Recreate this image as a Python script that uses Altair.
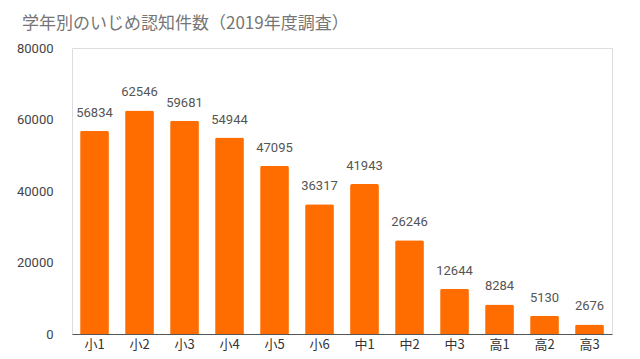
import altair as alt
import pandas as pd

grades = ["小1", "小2", "小3", "小4", "小5", "小6", "中1", "中2", "中3", "高1", "高2", "高3"]
counts = [56834, 62546, 59681, 54944, 47095, 36317, 41943, 26246, 12644, 8284, 5130, 2676]
y_ticks = [0, 20000, 40000, 60000, 80000]

df = pd.DataFrame({"grade": grades, "count": counts})

base = alt.Chart(df).encode(
    x=alt.X("grade:N", sort=grades, title=None,
            scale=alt.Scale(paddingInner=0.36, paddingOuter=0.18),
            axis=alt.Axis(labelAngle=0, ticks=False, domainColor="#555555",
                          labelFont="Noto Sans CJK JP", labelFontSize=13,
                          labelColor="#333333", labelPadding=4)),
    y=alt.Y("count:Q", title=None,
            scale=alt.Scale(domain=[0, 80000], nice=False),
            axis=alt.Axis(values=y_ticks, grid=False, domain=False, ticks=False,
                          labelFont="Roboto", labelFontSize=13, labelColor="#444444",
                          labelPadding=19, format="d")),
)

bars = base.mark_bar(color="#FF6D01", cornerRadiusTopLeft=2, cornerRadiusTopRight=2)
labels = base.mark_text(baseline="bottom", dy=-11, font="Roboto", fontSize=13,
                        color="#555555").encode(text=alt.Text("count:Q", format="d"))

chart = (bars + labels).properties(
    width=540, height=286,
    autosize=alt.AutoSizeParams(type="none"),
    padding={"left": 64, "top": 40, "right": 20, "bottom": 17},
    title=alt.TitleParams("学年別のいじめ認知件数（2019年度調査）", anchor="start",
                          font="Noto Sans CJK JP", fontSize=17, fontWeight="normal",
                          color="#757575", dx=-50, offset=9, frame="group"),
).configure_view(strokeWidth=0, stroke="#ffffff").configure(background="white")

chart.save("out.html", embed_options={"renderer": "svg", "actions": False})
